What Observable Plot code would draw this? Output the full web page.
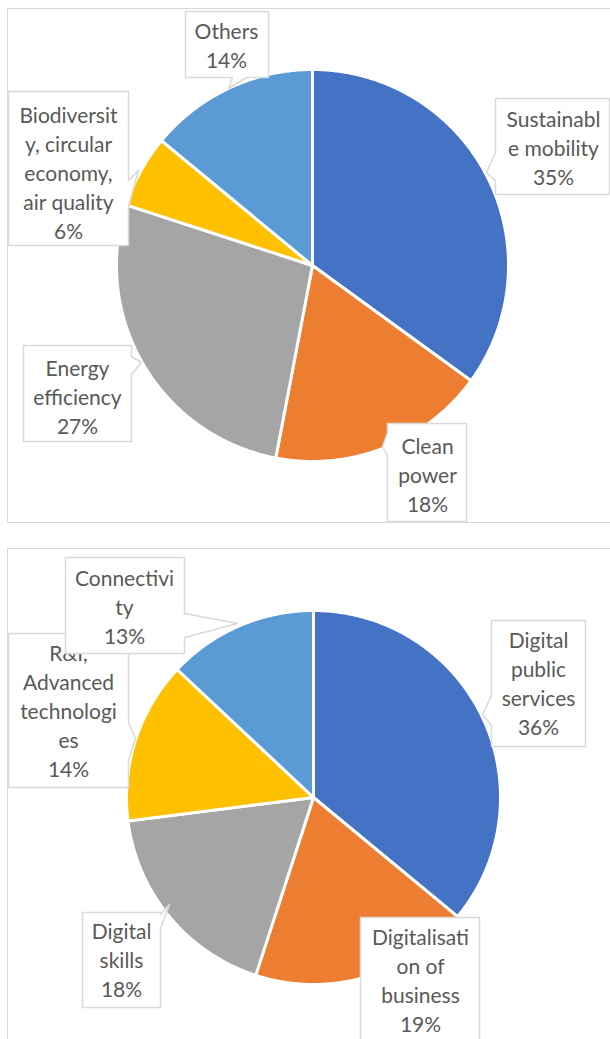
<!DOCTYPE html>
<html>
<head>
<meta charset="utf-8">
<script src="https://cdn.jsdelivr.net/npm/d3@7"></script>
<script src="https://cdn.jsdelivr.net/npm/@observablehq/plot@0.6"></script>
<style>
  html, body { margin: 0; padding: 0; background: #fff; overflow: hidden; width: 610px; height: 1039px; }
  .frame { position: absolute; border: 1.5px solid #D9D9D9; box-sizing: border-box; }
  .chart { position: absolute; left: 0; width: 610px; overflow: hidden; }
</style>
</head>
<body>
<div class="frame" style="left:7px; top:8px; width:700px; height:515px;"></div>
<div class="frame" style="left:7px; top:548px; width:700px; height:600px;"></div>
<div id="c1" class="chart" style="top:0px; height:530px;"></div>
<div id="c2" class="chart" style="top:530px; height:509px;"></div>
<script>
// ---------- DATA ----------
const greenCategories = ["Sustainable mobility", "Clean power", "Energy efficiency", "Biodiversity, circular economy, air quality", "Others"];
const greenValues = [35, 18, 27, 6, 14];
const greenLabelLines = ["Sustainabl\ne mobility", "Clean\npower", "Energy\nefficiency", "Biodiversit\ny, circular\neconomy,\nair quality", "Others"];

const digitalCategories = ["Digital public services", "Digitalisation of business", "Digital skills", "R&I, Advanced technologies", "Connectivity"];
const digitalValues = [36, 19, 18, 14, 13];
const digitalLabelLines = ["Digital\npublic\nservices", "Digitalisati\non of\nbusiness", "Digital\nskills", "R&I,\nAdvanced\ntechnologi\nes", "Connectivi\nty"];

const sliceColors = ["#4472C4", "#ED7D31", "#A5A5A5", "#FFC000", "#5B9BD5"];

// ---------- LAYOUT ----------
const layout1 = {
  top: 0, height: 530, cx: 312, cy: 265, r: 196,
  callouts: [
    {box: [495, 98, 609, 194], tx: 553, ty: 117, ptr: {side: "left", a: 152, b: 180, tip: [486, 172]}},
    {box: [387, 423, 466, 521], tx: 427, ty: 444, ptr: {side: "left", a: 432, b: 455, tip: [382, 446]}},
    {box: [23, 345, 131, 441], tx: 77, ty: 366, ptr: {side: "right", a: 356, b: 374, tip: [141, 362]}},
    {box: [8, 91, 128, 245], tx: 68, ty: 113, ptr: {side: "right", a: 180, b: 206, tip: [138, 170]}},
    {box: [185, 11, 268, 77], tx: 226, ty: 29, ptr: {side: "bottom", a: 232, b: 246, tip: [228, 88]}}
  ]
};
const layout2 = {
  top: 530, height: 509, cx: 313, cy: 797, r: 187,
  callouts: [
    {box: [491, 620, 585, 746], tx: 538, ty: 638, ptr: {side: "left", a: 695, b: 725, tip: [482, 714]}},
    {box: [360, 917, 479, 1060], tx: 420, ty: 935, ptr: null},
    {box: [82, 912, 160, 1007], tx: 121, ty: 929, ptr: {side: "right", a: 914, b: 928, tip: [169, 904]}},
    {box: [8, 633, 128, 787], tx: 68, ty: 651, ptr: {side: "right", a: 722, b: 760, tip: [135, 738]}},
    {box: [65, 557, 184, 653], tx: 124, ty: 576, ptr: {side: "right", a: 613, b: 637, tip: [237, 623]}}
  ]
};

const FONT = "Lato, 'Open Sans', sans-serif";
const FONT_SIZE = 21;
const LINE_PX = 29;

function slicePoints(categories, values, L) {
  const total = d3.sum(values);
  const pts = [];
  let acc = 0;
  categories.forEach((cat, i) => {
    const a0 = acc / total * 2 * Math.PI;
    acc += values[i];
    const a1 = acc / total * 2 * Math.PI;
    pts.push({key: cat, x: L.cx, y: L.cy});
    const n = Math.max(2, Math.ceil((a1 - a0) / 0.008));
    for (let k = 0; k <= n; k++) {
      const a = a0 + (a1 - a0) * k / n;
      pts.push({key: cat, x: L.cx + L.r * Math.sin(a), y: L.cy - L.r * Math.cos(a)});
    }
  });
  return pts;
}

function calloutPoints(c) {
  const [x1, y1, x2, y2] = c.box;
  const p = c.ptr;
  const pts = [[x1, y1]];
  if (p && p.side === "top") pts.push([p.a, y1], p.tip, [p.b, y1]);
  pts.push([x2, y1]);
  if (p && p.side === "right") pts.push([x2, p.a], p.tip, [x2, p.b]);
  pts.push([x2, y2]);
  if (p && p.side === "bottom") pts.push([p.b, y2], p.tip, [p.a, y2]);
  pts.push([x1, y2]);
  if (p && p.side === "left") pts.push([x1, p.b], p.tip, [x1, p.a]);
  return pts.map(([x, y]) => ({x, y}));
}

function drawPie(categories, values, labelLines, L) {
  const marks = [
    Plot.line(slicePoints(categories, values, L), {
      x: "x", y: "y", z: "key", fill: "key", curve: "linear-closed",
      stroke: "white", strokeWidth: 3, strokeLinejoin: "round"
    })
  ];
  categories.forEach((cat, i) => {
    const c = L.callouts[i];
    const lines = labelLines[i] + "\n" + values[i] + "%";
    const nLines = lines.split("\n").length;
    marks.push(Plot.line(calloutPoints(c), {
      x: "x", y: "y", curve: "linear-closed", fill: "white", stroke: "#D9D9D9", strokeWidth: 1.5
    }));
    marks.push(Plot.text([{x: c.tx, y: c.ty + (nLines - 1) * LINE_PX / 2, t: lines}], {
      x: "x", y: "y", text: "t", lineAnchor: "middle", textAnchor: "middle",
      fill: "#595959", fontSize: FONT_SIZE, fontFamily: FONT, lineHeight: LINE_PX / FONT_SIZE
    }));
  });
  return Plot.plot({
    width: 610, height: L.height, margin: 0,
    x: {domain: [0, 610], range: [0, 610], axis: null},
    y: {domain: [L.top, L.top + L.height], range: [0, L.height], axis: null},
    color: {domain: categories, range: sliceColors},
    style: {background: "transparent", overflow: "visible"},
    marks
  });
}

document.getElementById("c1").appendChild(drawPie(greenCategories, greenValues, greenLabelLines, layout1));
document.getElementById("c2").appendChild(drawPie(digitalCategories, digitalValues, digitalLabelLines, layout2));
</script>
</body>
</html>
